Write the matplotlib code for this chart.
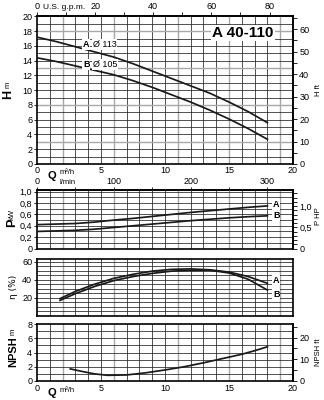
import matplotlib
matplotlib.use("Agg")
import matplotlib.pyplot as plt
from matplotlib.ticker import FixedLocator, MultipleLocator, FuncFormatter

plt.rcParams['font.family'] = ['Liberation Sans', 'DejaVu Sans']

# ---------------- data ----------------
q_h = [0, 1.5, 3, 4.5, 6, 7.5, 9, 10.5, 12, 13.5, 15, 16.5, 18]
h_a = [17.2, 16.6, 15.9, 15.2, 14.5, 13.6, 12.6, 11.6, 10.6, 9.6, 8.4, 7.1, 5.6]
h_b = [14.4, 13.9, 13.3, 12.7, 12.1, 11.3, 10.4, 9.4, 8.4, 7.3, 6.1, 4.8, 3.35]

q_p = [0, 1.5, 3, 4.5, 6, 7.5, 9, 10.5, 12, 13.5, 15, 16.5, 18]
p_a = [0.42, 0.43, 0.44, 0.465, 0.50, 0.53, 0.565, 0.60, 0.635, 0.665, 0.695, 0.725, 0.75]
p_b = [0.30, 0.31, 0.32, 0.34, 0.37, 0.40, 0.43, 0.46, 0.49, 0.515, 0.54, 0.56, 0.575]

q_eta = [1.8, 3, 4.5, 6, 7.5, 9, 10.5, 12, 13.5, 15, 16.5, 18]
eta_a = [19, 27, 35, 41.5, 46, 49.5, 51.5, 52, 51, 48.5, 43.5, 36]
eta_b = [17, 24.5, 32.5, 39, 43.5, 47, 49.5, 50.5, 50.5, 47.5, 40.5, 28.5]

q_npsh = [2.6, 3.5, 4.5, 5.5, 7, 8.5, 10, 11.5, 13, 14.5, 16, 17, 18]
npsh = [1.7, 1.35, 1.0, 0.8, 0.85, 1.15, 1.55, 2.0, 2.55, 3.15, 3.75, 4.25, 4.8]

q_ticks = [0, 5, 10, 15, 20]
gpm_ticks = [0, 20, 40, 60, 80]
lmin_ticks = [0, 100, 200, 300]

# ---------------- figure ----------------
W, H = 324, 400
fig = plt.figure(figsize=(W / 100, H / 100), dpi=100)
X0, X1 = 37, 293


def rect(top, bot):
    return [X0 / W, 1 - bot / H, (X1 - X0) / W, (bot - top) / H]


FS = 6.5
LW = 1.25
M_TO_FT = 3.2808
KW_TO_HP = 1.341
comma = FuncFormatter(lambda v, p: "0" if abs(v) < 1e-9 else ("%.1f" % v).replace(".", ","))


def base(ax, ylim, ystep, gray_y=()):
    ax.set_xlim(0, 20)
    ax.set_ylim(*ylim)
    for q in range(1, 20):
        g = q in (2, 6, 11, 15, 19)
        ax.axvline(q, color='#a8a8a8' if g else '#222222', lw=1.0 if g else 0.55, zorder=1)
    y = ylim[0] + ystep
    while y < ylim[1] - 1e-9:
        g = any(abs(y - gy) < 1e-6 for gy in gray_y)
        ax.axhline(y, color='#a8a8a8' if g else '#222222', lw=1.0 if g else 0.55, zorder=1)
        y += ystep
    for s in ax.spines.values():
        s.set_linewidth(1.2)
    ax.tick_params(axis='y', direction='out', length=2, width=0.6, labelsize=FS, pad=1.5)
    ax.tick_params(axis='x', length=0, labelsize=FS, pad=2.5)
    ax.set_xticks(q_ticks)
    ax.set_xticklabels([])


def right_axis(ax, fwd, inv, major, minor, fmt=None):
    sec = ax.secondary_yaxis('right', functions=(fwd, inv))
    sec.yaxis.set_major_locator(FixedLocator(major))
    sec.yaxis.set_minor_locator(MultipleLocator(minor))
    sec.tick_params(which='major', direction='out', length=3, width=0.6, labelsize=FS, pad=1.5)
    sec.tick_params(which='minor', direction='out', length=3, width=0.6)
    sec.spines['right'].set_linewidth(1.2)
    if fmt:
        sec.yaxis.set_major_formatter(fmt)
    return sec


# ---- H panel ----
ax1 = fig.add_axes(rect(16.5, 164))
base(ax1, (0, 20), 1, gray_y=(3, 8, 13, 18))
ax1.set_yticks(range(0, 21, 2))
ax1.set_xticklabels([str(v) for v in q_ticks])
ax1.tick_params(axis='x', pad=1.5)
ax1.plot(q_h, h_a, color='#1a1a1a', lw=LW, zorder=3)
ax1.plot(q_h, h_b, color='#1a1a1a', lw=LW, zorder=3)
bb = dict(facecolor='white', edgecolor='none', pad=0.6)
ax1.text(3.6, 16.2, 'A', fontsize=6.5, fontweight='bold', va='center', ha='left', bbox=bb, zorder=4)
ax1.text(4.35, 16.2, 'Ø 113', fontsize=6.5, va='center', ha='left', bbox=bb, zorder=4)
ax1.text(3.6, 13.5, 'B', fontsize=6.5, fontweight='bold', va='center', ha='left', bbox=bb, zorder=4)
ax1.text(4.35, 13.5, 'Ø 105', fontsize=6.5, va='center', ha='left', bbox=bb, zorder=4)
ax1.text(16.1, 17.75, 'A 40-110', fontsize=11, fontweight='bold', va='center', ha='center',
         bbox=dict(facecolor='white', edgecolor='none', pad=1.0), zorder=4)
top = ax1.secondary_xaxis('top', functions=(lambda q: q * 4.403, lambda g: g / 4.403))
top.xaxis.set_major_locator(FixedLocator(gpm_ticks))
top.xaxis.set_minor_locator(MultipleLocator(10))
top.tick_params(which='both', direction='out', length=3, width=0.6, labelsize=FS, pad=1)
top.spines['top'].set_linewidth(1.2)
right_axis(ax1, lambda m: m * M_TO_FT, lambda f: f / M_TO_FT, list(range(0, 61, 10)), 5)

# ---- P panel ----
ax2 = fig.add_axes(rect(190, 248.5))
base(ax2, (0, 1.03), 0.1)
ax2.set_yticks([0, 0.2, 0.4, 0.6, 0.8, 1.0])
ax2.yaxis.set_major_formatter(comma)
ax2.plot(q_p, p_a, color='#1a1a1a', lw=LW, zorder=3)
ax2.plot(q_p, p_b, color='#1a1a1a', lw=LW, zorder=3)
ax2.text(18.45, p_a[-1] + 0.02, 'A', fontsize=6.5, fontweight='bold', va='center', ha='left', bbox=bb, zorder=4)
ax2.text(18.45, p_b[-1], 'B', fontsize=6.5, fontweight='bold', va='center', ha='left', bbox=bb, zorder=4)
top2 = ax2.secondary_xaxis('top', functions=(lambda q: q * 1000 / 60, lambda l: l * 60 / 1000))
top2.xaxis.set_major_locator(FixedLocator(lmin_ticks))
top2.xaxis.set_minor_locator(MultipleLocator(50))
top2.tick_params(which='both', direction='out', length=2.5, width=0.6, labelsize=FS, pad=0.5)
top2.spines['top'].set_linewidth(1.2)
right_axis(ax2, lambda k: k * KW_TO_HP, lambda h: h / KW_TO_HP, [0, 0.5, 1.0], 0.1, comma)

# ---- efficiency panel ----
ax3 = fig.add_axes(rect(259, 315.7))
base(ax3, (0, 63), 5)
ax3.set_yticks([20, 40, 60])
ax3.plot(q_eta, eta_a, color='#1a1a1a', lw=LW, zorder=3)
ax3.plot(q_eta, eta_b, color='#1a1a1a', lw=LW, zorder=3)
ax3.text(18.45, 39.5, 'A', fontsize=6.5, fontweight='bold', va='center', ha='left', bbox=bb, zorder=4)
ax3.text(18.45, 24, 'B', fontsize=6.5, fontweight='bold', va='center', ha='left', bbox=bb, zorder=4)

# ---- NPSH panel ----
ax4 = fig.add_axes(rect(324, 381))
base(ax4, (0, 8), 1)
ax4.set_yticks([0, 2, 4, 6, 8])
ax4.set_xticklabels([str(v) for v in q_ticks])
ax4.plot(q_npsh, npsh, color='#1a1a1a', lw=LW, zorder=3)
right_axis(ax4, lambda m: m * M_TO_FT, lambda f: f / M_TO_FT, [0, 10, 20], 5)

# ---- axis titles ----
def ft(x, y, s, **kw):
    fig.text(x / W, 1 - y / H, s, **kw)

ft(8.5, 94, 'H', fontsize=9, fontweight='bold', rotation=90, ha='center', va='center')
ft(8.5, 85, 'm', fontsize=5.5, rotation=90, ha='center', va='center')
ft(12, 223, 'P', fontsize=9, fontweight='bold', rotation=90, ha='center', va='center')
ft(12, 214, 'kW', fontsize=5.5, rotation=90, ha='center', va='center')
ft(13, 287, 'η (%)', fontsize=6.5, rotation=90, ha='center', va='center', family=['DejaVu Sans'])
ft(13, 352, 'NPSH', fontsize=8, fontweight='bold', rotation=90, ha='center', va='center')
ft(13, 332, 'm', fontsize=5.5, rotation=90, ha='center', va='center')

ft(318, 90, 'H ft', fontsize=5.5, rotation=90, ha='center', va='center')
ft(318, 216, 'P HP', fontsize=5.5, rotation=90, ha='center', va='center')
ft(318, 352, 'NPSH ft', fontsize=5.5, rotation=90, ha='center', va='center')

ft(43, 7.5, 'U.S. g.p.m.', fontsize=6, ha='left', va='center')
ft(52, 176.5, 'Q', fontsize=8, fontweight='bold', ha='center', va='center')
ft(60, 173, 'm³/h', fontsize=5.5, ha='left', va='center')
ft(60, 182, 'l/min', fontsize=5.5, ha='left', va='center')
ft(52, 393, 'Q', fontsize=8, fontweight='bold', ha='center', va='center')
ft(60, 390, 'm³/h', fontsize=5.5, ha='left', va='center')

fig.savefig('out.png', dpi=100, facecolor='white')
